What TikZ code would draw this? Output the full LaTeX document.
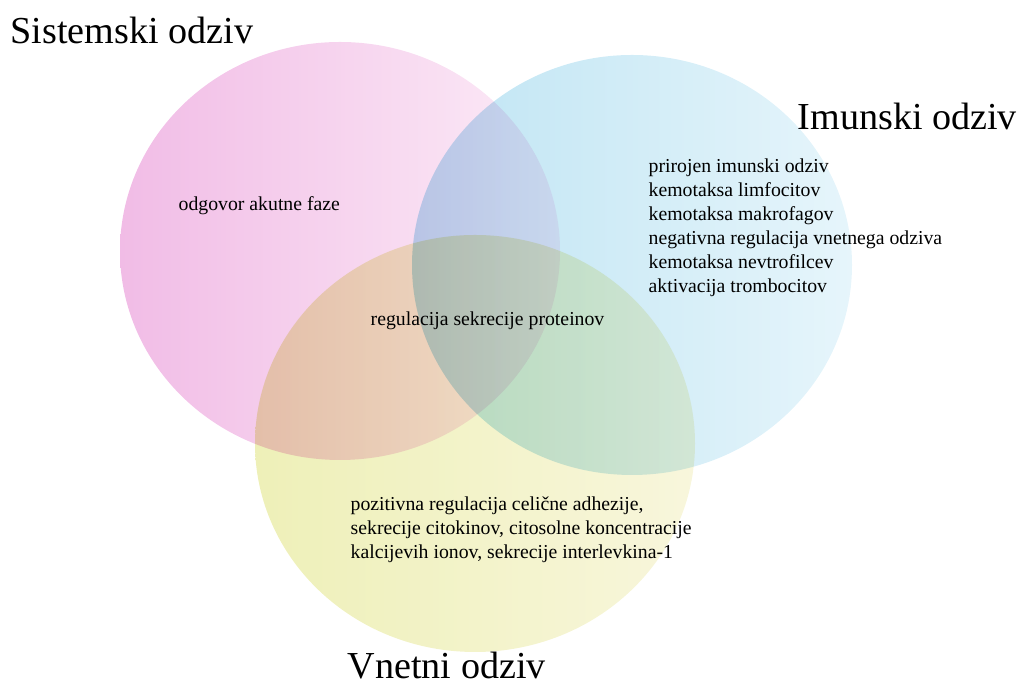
\documentclass[tikz,border=0pt]{standalone}
\usepackage{fontspec}
\setmainfont{Liberation Serif}
\usepackage{tkz-euclide}
\definecolor{pinkL}{RGB}{241,188,230}
\definecolor{pinkR}{RGB}{252,236,247}
\definecolor{blueL}{RGB}{190,228,243}
\definecolor{blueR}{RGB}{230,245,251}
\definecolor{yellowL}{RGB}{238,240,184}
\definecolor{yellowR}{RGB}{248,246,220}
\tikzset{setname/.style = {font=\fontsize{10.85pt}{13pt}\selectfont, inner sep=0pt, anchor=base west},
         setitem/.style = {font=\fontsize{5.62pt}{6.83pt}\selectfont, align=left, inner sep=0pt, anchor=base west},
         venn/.style = {blend mode=multiply}}

\begin{document}
\begin{tikzpicture}
\useasboundingbox (0,0) rectangle (10.19,6.82);
\tkzDefPoints{3.40/4.31/S, 6.32/4.17/I, 4.75/2.385/V}
\shade[venn, left color=pinkL, right color=pinkR] (S) ellipse (2.20 and 2.09);
\shade[venn, left color=blueL, right color=blueR] (I) ellipse (2.20 and 2.10);
\shade[venn, left color=yellowL, right color=yellowR] (V) ellipse (2.20 and 2.085);
\node[setname] (sistemski) at (0.10,6.38) {Sistemski odziv};
\node[setname] (imunski) at (7.97,5.52) {Imunski odziv};
\node[setname] (vnetni) at (3.47,0.03) {Vnetni odziv};
\node[setitem] (akutna) at (1.78,4.71) {odgovor akutne faze};
\node[setitem] (imunlist) at (6.48,3.89) {prirojen imunski odziv\\kemotaksa limfocitov\\kemotaksa makrofagov\\negativna regulacija vnetnega odziva\\kemotaksa nevtrofilcev\\aktivacija trombocitov};
\node[setitem] (skupno) at (3.70,3.56) {regulacija sekrecije proteinov};
\node[setitem] (vnetlist) at (3.50,1.23) {pozitivna regulacija celične adhezije,\\sekrecije citokinov, citosolne koncentracije\\kalcijevih ionov, sekrecije interlevkina-1};
\end{tikzpicture}
\end{document}
